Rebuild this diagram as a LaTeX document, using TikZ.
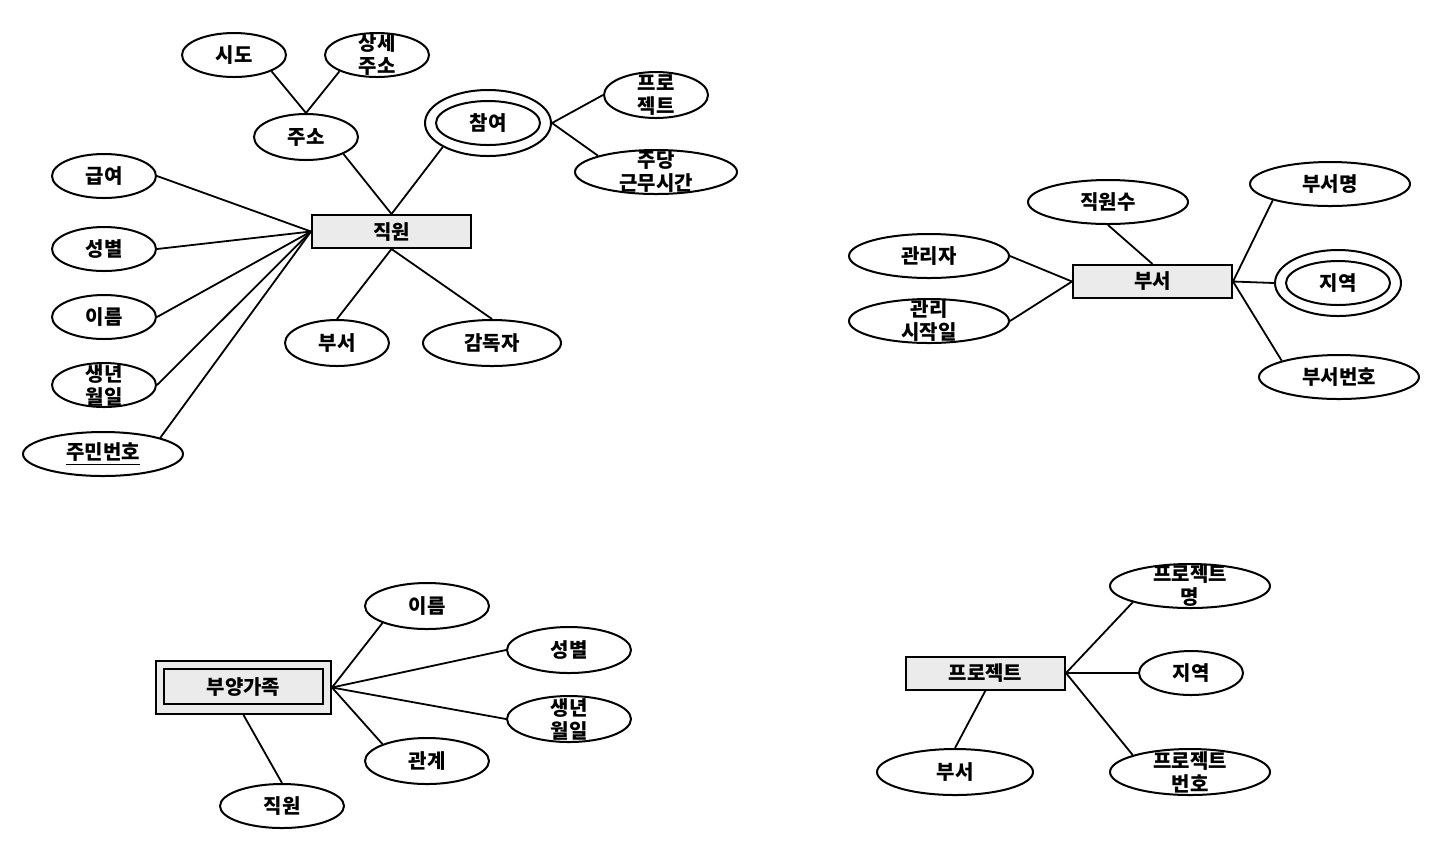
\documentclass[tikz,border=0pt]{standalone}
\usepackage{fontspec}
\setmainfont{Noto Sans CJK KR}
\usetikzlibrary{shapes.geometric}

\tikzset{
  ent/.style={draw,line width=1pt,fill=gray!16,minimum width=79.5pt,minimum height=16.5pt,inner sep=0pt},
  attr/.style={draw,ellipse,line width=1pt,minimum width=#1,minimum height=22pt,inner sep=0pt},
  attr/.default=52pt,
  link/.style={line width=0.9pt},
  every label/.style={align=center},
}

\begin{document}
\begin{tikzpicture}[x=0.5pt,y=-0.5pt,font=\bfseries\fontsize{10pt}{11.5pt}\selectfont]
\useasboundingbox (0,0) rectangle (1450,859);
% Employee entity
\node[ent] (emp) at (391.5,231.5) {직원};
\node[attr] (sido) at (234,55) {시도};
\node[attr,label={center:상세\\주소}] (addrdet) at (377,55) {};
\node[attr,minimum height=23pt] (addr) at (306,137) {주소};
\node[attr=63pt,minimum height=33pt] (part) at (488,123) {};
\node[attr] (partin) at (488,123) {참여};
\node[attr,minimum height=23pt,label={center:프로\\젝트}] (proj) at (656,95) {};
\node[attr=81pt,label={center:주당\\근무시간}] (hours) at (656,172) {};
\node[attr] (salary) at (104,176) {급여};
\node[attr] (sex) at (104,249) {성별};
\node[attr] (name) at (104,317) {이름};
\node[attr,label={center:생년\\월일}] (birth) at (104,385) {};
\node[attr=80pt] (ssn) at (103,454) {\underline{주민번호}};
\node[attr,minimum height=23pt] (edept) at (337,343) {부서};
\node[attr=69pt,minimum height=23pt] (boss) at (492,343) {감독자};
\draw[link] (addr.north) -- (sido.south east);
\draw[link] (addr.north) -- (addrdet.south west);
\draw[link] (part.east) -- (proj.west);
\draw[link] (part.east) -- (hours.north west);
\draw[link] (emp.north) -- (addr.south east);
\draw[link] (emp.north) -- (part.south west);
\foreach \a in {salary,sex,name,birth}
  \draw[link] (emp.west) -- (\a.east);
\draw[link] (emp.west) -- (ssn.north east);
\draw[link] (emp.south) -- (edept.north);
\draw[link] (emp.south) -- (boss.north);

% Department entity
\node[ent] (dep) at (1152.5,281.5) {부서};
\node[attr=80pt] (nemp) at (1108,202) {직원수};
\node[attr=80pt] (mgr) at (929,256) {관리자};
\node[attr=80pt,label={center:관리\\시작일}] (mgrstart) at (929,321) {};
\node[attr=80pt] (dname) at (1330,184) {부서명};
\node[attr=63pt,minimum height=33pt] (dloc) at (1338,283) {};
\node[attr] (dlocin) at (1338,283) {지역};
\node[attr=80pt] (dno) at (1339,377) {부서번호};
\draw[link] (dep.north) -- (nemp.south);
\draw[link] (dep.west) -- (mgr.east);
\draw[link] (dep.west) -- (mgrstart.east);
\draw[link] (dep.east) -- (dname.south west);
\draw[link] (dep.east) -- (dloc.west);
\draw[link] (dep.east) -- (dno.north west);

% Dependent (weak entity)
\node[ent,minimum width=87.5pt,minimum height=26.5pt] (dpd) at (243.5,687.5) {};
\node[ent,minimum height=17.5pt] (dpdin) at (243.5,686.5) {부양가족};
\node[attr=62pt,minimum height=23pt] (dpname) at (427,606) {이름};
\node[attr=62pt,minimum height=23pt] (dpsex) at (569,650) {성별};
\node[attr=62pt,minimum height=23pt,label={center:생년\\월일}] (dpbirth) at (569,719) {};
\node[attr=62pt,minimum height=23pt] (rel) at (427,761) {관계};
\node[attr=62pt] (dpemp) at (282,806) {직원};
\draw[link] (dpd.east) -- (dpname.south west);
\draw[link] (dpd.east) -- (dpsex.west);
\draw[link] (dpd.east) -- (dpbirth.west);
\draw[link] (dpd.east) -- (rel.north west);
\draw[link] (dpd.south) -- (dpemp.north);

% Project entity
\node[ent] (prj) at (985.5,673) {프로젝트};
\node[attr=80pt,label={center:프로젝트\\명}] (pname) at (1190,586) {};
\node[attr] (ploc) at (1191,673) {지역};
\node[attr=80pt,minimum height=23pt,label={center:프로젝트\\번호}] (pno) at (1190,772) {};
\node[attr=78pt,minimum height=23pt] (pdept) at (955,772) {부서};
\draw[link] (prj.east) -- (pname.south west);
\draw[link] (prj.east) -- (ploc.west);
\draw[link] (prj.east) -- (pno.north west);
\draw[link] (prj.south) -- (pdept.north);
\end{tikzpicture}
\end{document}
